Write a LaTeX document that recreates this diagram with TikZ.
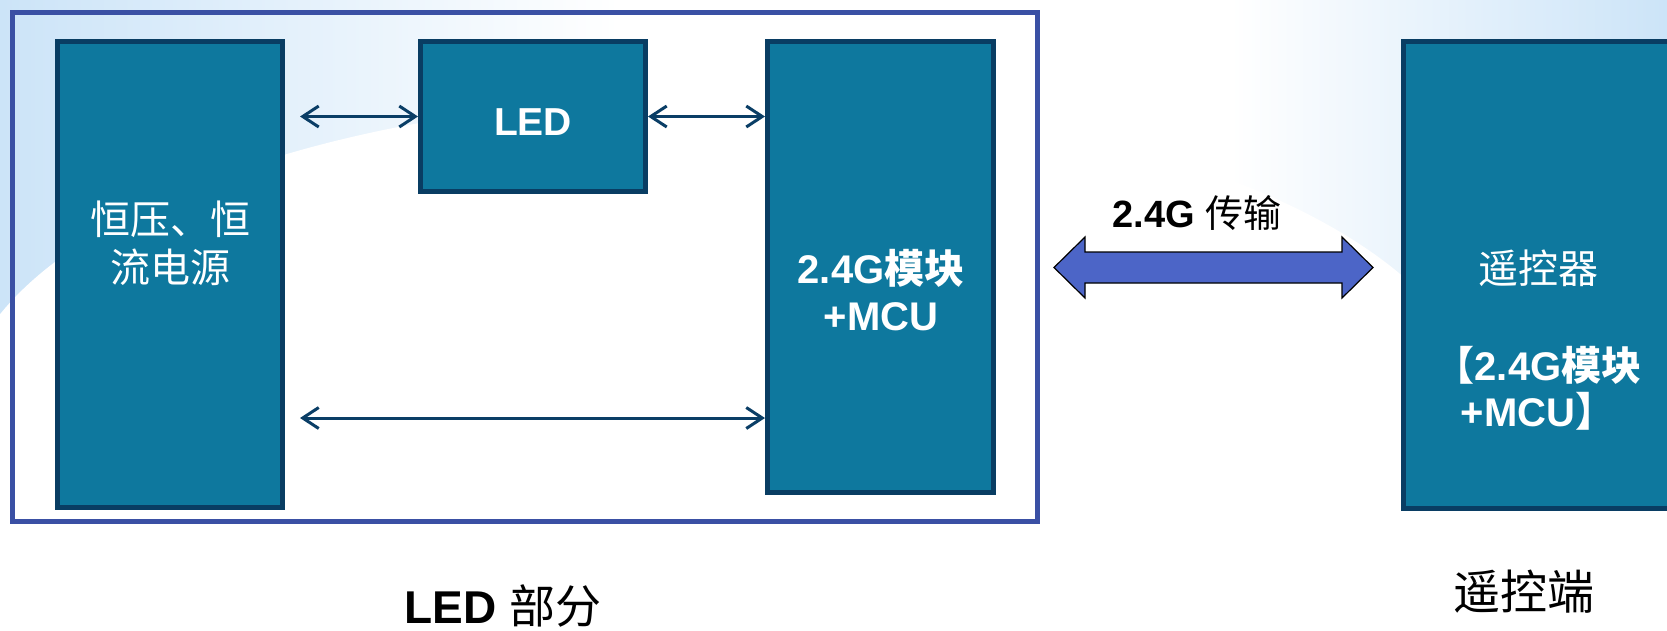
\documentclass[tikz,border=0pt]{standalone}
\usepackage{fontspec}
\setmainfont{Liberation Sans}
\newfontfamily\cjk{Noto Sans CJK SC}
\usetikzlibrary{arrows.meta,calc}
\definecolor{boxfill}{HTML}{0E789E}
\definecolor{boxline}{HTML}{093D63}
\definecolor{frameblue}{HTML}{3A50A4}
\definecolor{bigarrow}{HTML}{4C65C7}
\definecolor{connline}{HTML}{0A3E66}
\definecolor{bgblue}{HTML}{CCE4F8}
\begin{document}
\begin{tikzpicture}[x=1pt,y=-1pt,
  blockbox/.style={rectangle, draw=boxline, fill=boxfill, line width=5pt, inner sep=0pt},
  framebox/.style={rectangle, draw=frameblue, line width=5pt, inner sep=0pt},
  barb/.tip={Straight Barb[length=16pt,width=21pt,line width=3pt]},
  conn/.style={draw=connline, line width=3pt, barb-barb},
  intext/.style={text=white, anchor=base, inner sep=0pt, font=\fontsize{40}{48}\selectfont},
  intextb/.style={text=white, anchor=base, inner sep=0pt, font=\bfseries\fontsize{40}{48}\selectfont},
  outtext/.style={text=black, anchor=base, inner sep=0pt},
]
\useasboundingbox (0,0) rectangle (1667,630);
\begin{scope}
  \clip (0,0) rectangle (1667,630);
  % background
  \shade[left color=bgblue, right color=white] (0,0) rectangle (620,630);
  \shade[left color=white, right color=bgblue] (1230,0) rectangle (1667,630);
  \fill[white] (720,417) ellipse [x radius=760, y radius=320];
  \fill[white] (-50,417) rectangle (1720,700);

  % frame of the LED part
  \node[framebox, minimum width=1025pt, minimum height=509pt] (ledpart) at (525,267) {};

  % blocks
  \node[blockbox, minimum width=225pt, minimum height=466pt] (psu) at (170,274.5) {};
  \node[blockbox, minimum width=225pt, minimum height=150pt] (led) at (533,116.5) {};
  \node[blockbox, minimum width=226pt, minimum height=451pt] (mcu) at (880.5,267) {};
  \node[blockbox, minimum width=270pt, minimum height=467pt] (rc) at (1538.5,275) {};

  % connectors
  \coordinate (lowrow) at (0,418);
  \draw[conn] ($(psu.east |- led.west)+(15,0)$) -- (led.west);
  \draw[conn] (led.east) -- (mcu.west |- led.east);
  \draw[conn] ($(psu.east |- lowrow)+(15,0)$) -- (mcu.west |- lowrow);

  % big double arrow
  \begin{scope}[shift={(1213.5,267.5)}]
    \draw[black, line width=1.2pt, fill=bigarrow, line join=miter]
      (-159.5,0) -- (-128.5,-30.5) -- (-128.5,-15.5) -- (128.5,-15.5) -- (128.5,-30.5)
      -- (159.5,0) -- (128.5,30.5) -- (128.5,15.5) -- (-128.5,15.5) -- (-128.5,30.5) -- cycle;
  \end{scope}

  % texts
  \node[intext] (psut1) at (170,234) {\cjk 恒压、恒};
  \node[intext] (psut2) at (170,282) {\cjk 流电源};
  \node[intextb, font=\bfseries\fontsize{39}{47}\selectfont] (ledt) at (533,135) {LED};
  \node[intextb] (mcut1) at (881,283) {2.4G{\cjk 模块}};
  \node[intextb] (mcut2) at (881,330) {+MCU};
  \node[outtext, font=\bfseries\fontsize{38}{46}\selectfont] (bat) at (1197,227) {2.4G {\mdseries\cjk 传输}};
  \node[intext] (rct1) at (1538,283) {\cjk 遥控器};
  \node[intextb] (rct2) at (1538,380) {{\cjk 【}2.4G{\cjk 模块}};
  \node[intextb] (rct3) at (1538,426) {+MCU{\cjk 】}};
  \node[outtext, font=\bfseries\fontsize{46}{54}\selectfont] (ledpt) at (503,623) {LED {\mdseries\cjk 部分}};
  \node[outtext, font=\fontsize{47}{55}\selectfont] (rcpt) at (1524,609) {\cjk 遥控端};
\end{scope}
\end{tikzpicture}
\end{document}
